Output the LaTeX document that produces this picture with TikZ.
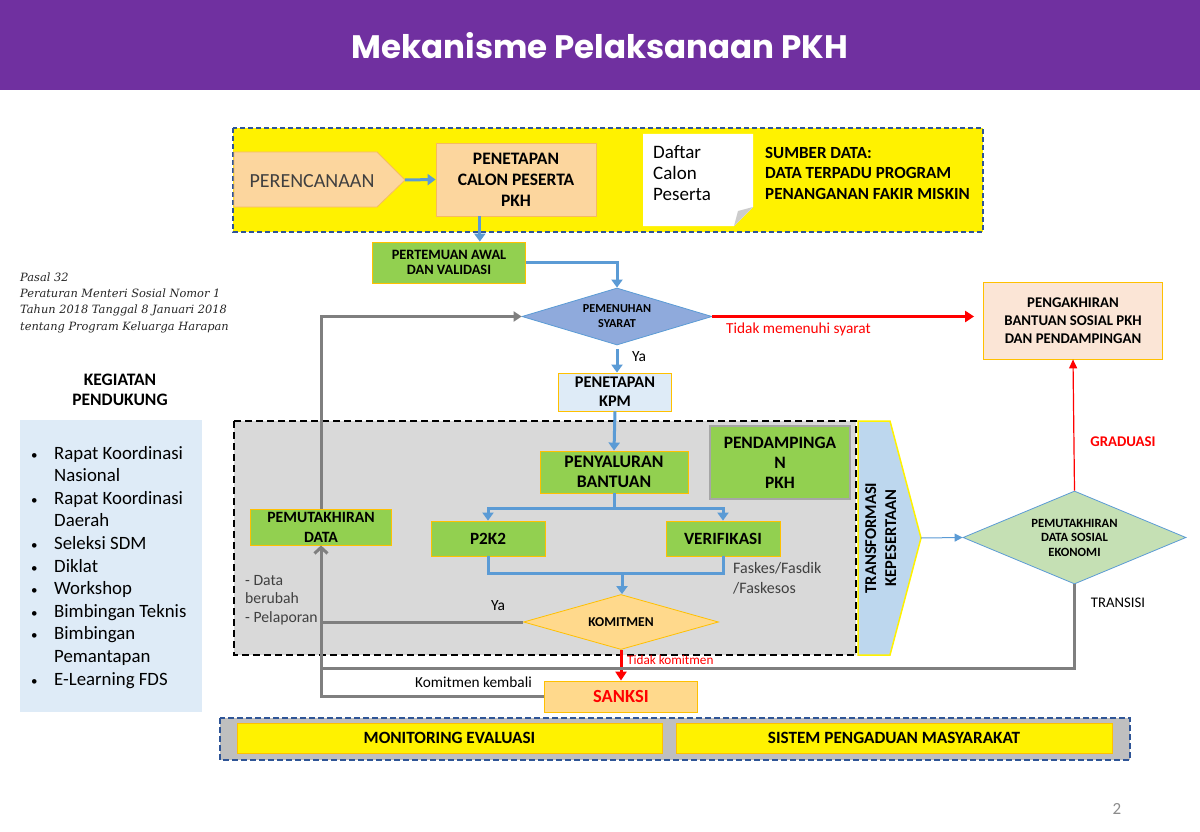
\documentclass[tikz,border=0pt]{standalone}
\usepackage{fontspec}
\setmainfont{Carlito}
\newfontfamily\titlefont{Poppins}
\newfontfamily\pasalfont{DejaVu Serif}
\usepackage{graphicx}
\usetikzlibrary{shapes.geometric, arrows.meta, calc}
\definecolor{pkhpurple}{RGB}{112, 48, 160}
\definecolor{peach}{RGB}{252, 214, 158}
\definecolor{peachline}{RGB}{246, 186, 96}
\definecolor{leaf}{RGB}{146, 208, 80}
\definecolor{gold}{RGB}{255, 192, 0}
\definecolor{flowblue}{RGB}{91, 155, 213}
\definecolor{dashblue}{RGB}{47, 85, 151}
\definecolor{skyfill}{RGB}{222, 235, 247}
\definecolor{rose}{RGB}{251, 229, 214}
\definecolor{amber}{RGB}{255, 217, 140}
\definecolor{slate}{RGB}{143, 170, 220}
\definecolor{mint}{RGB}{197, 224, 180}
\definecolor{ice}{RGB}{189, 215, 238}
\definecolor{panel}{RGB}{217, 217, 217}
\definecolor{ash}{RGB}{127, 127, 127}
\definecolor{strip}{RGB}{191, 191, 191}
\definecolor{ink}{RGB}{64, 64, 64}
\newcommand{\pkhsize}[2]{\fontsize{#1}{#2}\selectfont}
\newcommand{\pkhbullet}{\hspace*{1pt}{\pkhsize{13}{13}\textbullet}}

\begin{document}
\begin{tikzpicture}[x=1pt, y=-1pt,
  box/.style={draw=gold, line width=0.8pt, align=center, inner sep=1pt},
  leafbox/.style={box, fill=leaf},
  lbl/.style={inner sep=0pt},
  flow/.style={draw=flowblue, line width=3pt, -{Triangle[length=8pt, width=11pt]}},
  flowline/.style={draw=flowblue, line width=3pt},
  back/.style={draw=ash, line width=3pt},
  stop/.style={draw=red, line width=3pt, -{Triangle[length=9pt, width=11pt]}}]
  \useasboundingbox (0,0) rectangle (1200,832);
  \fill[white] (0,0) rectangle (1200,832);

  % header
  \fill[pkhpurple] (0,0) rectangle (1200,90);
  \node[text=white, font=\titlefont\bfseries\pkhsize{32.5}{40}] (title) at (600,46) {Mekanisme Pelaksanaan PKH};

  % planning strip
  \draw[fill=yellow, draw=dashblue, line width=1.2pt, dash pattern=on 5pt off 3pt] (233,128) rectangle (983,232);
  \draw[fill=peach, draw=peachline, line width=0.8pt] (234,152) -- (377,152) -- (405,180) -- (377,207) -- (234,207) -- cycle;
  \coordinate (perenctip) at (405,180);
  \node[lbl, text=ink, font=\pkhsize{20}{22}] (perenc) at (312,181) {PERENCANAAN};
  \node[box, draw=peachline, fill=peach, font=\bfseries\pkhsize{17.5}{21}, minimum width=160pt, minimum height=73pt] (calon) at (516,179.5) {PENETAPAN\\CALON PESERTA\\PKH};
  \fill[white] (643,134) -- (753,134) -- (753,207) -- (734,226) -- (643,226) -- cycle;
  \fill[black!20] (753,207) -- (734,226) -- (738,211) -- cycle;
  \node[lbl, anchor=west, align=left, font=\pkhsize{19}{21}] (daftar) at (653,173) {Daftar\\Calon\\Peserta};
  \node[lbl, anchor=west, align=left, font=\bfseries\pkhsize{17}{20.5}] (sumber) at (765,173) {SUMBER DATA:\\DATA TERPADU PROGRAM\\PENANGANAN FAKIR MISKIN};

  \node[leafbox, font=\bfseries\pkhsize{14.3}{15.5}, minimum width=153pt, minimum height=41pt] (awal) at (449,262.5) {PERTEMUAN AWAL\\DAN VALIDASI};
  \node[diamond, shape aspect=3.3, fill=slate, draw=flowblue, line width=0.8pt, minimum width=190pt, minimum height=57pt,
    inner sep=0pt, align=center, font=\bfseries\pkhsize{12.2}{15}] (syarat) at (617,316.5) {PEMENUHAN\\SYARAT};
  \node[box, fill=skyfill, font=\bfseries\pkhsize{16.3}{19}, minimum width=113pt, minimum height=38pt] (kpm) at (615,392) {PENETAPAN\\KPM};
  \node[box, fill=rose, font=\bfseries\pkhsize{14.8}{18}, minimum width=179pt, minimum height=77pt] (akhir) at (1073,320.5) {PENGAKHIRAN\\BANTUAN SOSIAL PKH\\DAN PENDAMPINGAN};

  % pelaksanaan panel
  \draw[fill=panel, line width=2pt, dash pattern=on 7pt off 4pt] (234,421) rectangle (856,655);
  \node[leafbox, font=\bfseries\pkhsize{17.7}{20}, minimum width=148pt, minimum height=42pt] (salur) at (614,472) {PENYALURAN\\BANTUAN};
  \node[leafbox, draw=black!35, line width=2pt, font=\bfseries\pkhsize{17.4}{20}, minimum width=140pt, minimum height=73pt] (damping) at (780,462.5) {PENDAMPINGA\\N\\PKH};
  \node[leafbox, font=\bfseries\pkhsize{17.2}{19}, minimum width=114pt, minimum height=35pt] (p2k2) at (488,538.5) {P2K2};
  \node[leafbox, font=\bfseries\pkhsize{17.2}{19}, minimum width=114pt, minimum height=35pt] (verif) at (723,538.5) {VERIFIKASI};
  \node[leafbox, font=\bfseries\pkhsize{15.7}{20}, minimum width=141pt, minimum height=36pt] (mutakhir) at (321,527) {PEMUTAKHIRAN\\DATA};
  \node[diamond, shape aspect=3.6, fill=amber, draw=gold, line width=0.8pt, minimum width=195pt, minimum height=55pt,
    inner sep=0pt, font=\bfseries\pkhsize{13.5}{15}] (komit) at (621,622) {KOMITMEN};
  \node[box, fill=amber, text=red, font=\bfseries\pkhsize{18.5}{20}, minimum width=153pt, minimum height=31pt] (sanksi) at (621,696.5) {SANKSI};

  \draw[fill=ice, draw=yellow, line width=1.5pt] (858,421) -- (890,421) -- (921,538) -- (890,655) -- (858,655) -- cycle;
  \coordinate (transtip) at (921,538);
  \node[lbl, font=\bfseries\pkhsize{16.5}{20}] (trans) at (882,538)
    {\rotatebox{90}{\begin{tabular}{@{}c@{}}TRANSFORMASI\\KEPESERTAAN\end{tabular}}};
  \node[diamond, shape aspect=2.4, fill=mint, draw=flowblue, line width=0.8pt, minimum width=223pt, minimum height=93pt,
    inner sep=0pt, align=center, font=\bfseries\pkhsize{12.6}{14.5}] (sosek) at (1074.5,537.5) {PEMUTAKHIRAN\\DATA SOSIAL\\EKONOMI};

  % connectors
  \draw[flow] (perenctip) -- (calon.west);
  \coordinate (calonout) at ($(calon.south west)!.275!(calon.south east)$);
  \draw[flow] (calonout) -- (calonout |- awal.north);
  \draw[flow] (awal.east) -| (syarat.north);
  \draw[stop] (syarat.east) -- (syarat.east -| akhir.west) [shorten >=9pt];
  \draw[flow, shorten <=4pt] (syarat.south) -- (syarat.south |- kpm.north);
  \draw[flow] (kpm.south) -- (salur.north);
  \coordinate (split) at ($(salur.south)+(0,15)$);
  \draw[flowline] (salur.south) -- (split);
  \draw[flow] (split) -| (p2k2.north);
  \draw[flow] (split) -| (verif.north);
  \coordinate (merge) at (622,573);
  \draw[flowline] (p2k2.south) |- (merge) -| (verif.south);
  \draw[flow] (merge) -- (merge |- komit.north);
  \draw[stop] (komit.south) -- (sanksi.north);
  \coordinate (transisiend) at (321,668);
  \draw[back] (komit.west) -- (komit.west -| mutakhir.south);
  \draw[back, -{Straight Barb[length=6pt, width=13pt]}] (sanksi.west) -| (mutakhir.south);
  \draw[back] (sosek.south) |- (transisiend);
  \draw[back, -{Triangle[length=8pt, width=10pt]}] (mutakhir.north) |- (syarat.west);
  \draw[draw=flowblue, line width=1pt, -{Triangle[length=8pt, width=8pt]}] (transtip) -- (sosek.west);
  \draw[draw=red, line width=1.2pt, -{Triangle[length=9pt, width=8pt]}] (sosek.north) -- (akhir.south);

  % labels
  \node[lbl, anchor=west, text=red, font=\pkhsize{15.3}{17}] (tidaksyarat) at (726,329) {Tidak memenuhi syarat};
  \node[lbl, font=\pkhsize{15.5}{17}] (ya1) at (639,357) {Ya};
  \node[lbl, font=\pkhsize{15.5}{17}] (ya2) at (498,606) {Ya};
  \node[lbl, anchor=west, text=red, font=\pkhsize{13.2}{15}] (tidakkomit) at (627,660) {Tidak komitmen};
  \node[lbl, font=\pkhsize{15.3}{17}] (kembali) at (473.5,682) {Komitmen kembali};
  \node[lbl, text=red, font=\bfseries\pkhsize{14.8}{17}] (graduasi) at (1123,442) {GRADUASI};
  \node[lbl, font=\pkhsize{14.7}{17}] (transisi) at (1118,603) {TRANSISI};
  \node[lbl, anchor=west, align=left, text=ink, font=\pkhsize{15.7}{18.5}] (ubah) at (245,600) {- Data\\berubah\\- Pelaporan};
  \node[lbl, anchor=west, align=left, text=ink, font=\pkhsize{16}{20}] (faskes) at (733,578) {Faskes/Fasdik\\/Faskesos};

  % kegiatan pendukung
  \node[lbl, anchor=west, align=left, text=black!85, font=\pasalfont\itshape\pkhsize{11.4}{16.3}] (pasal) at (20,302.5)
    {Pasal 32\\Peraturan Menteri Sosial Nomor 1\\Tahun 2018 Tanggal 8 Januari 2018\\tentang Program Keluarga Harapan};
  \node[lbl, align=center, font=\bfseries\pkhsize{17.5}{20}] (kegiatan) at (120,390) {KEGIATAN\\PENDUKUNG};
  \fill[skyfill] (20,420) rectangle (202,712);
  \node[lbl, anchor=base west, font=\pkhsize{18.8}{22.6}] (pendukung) at (30,459)
    {\begin{tabular}[t]{@{}p{24pt}@{}l@{}}
      \pkhbullet & Rapat Koordinasi\\ & Nasional\\
      \pkhbullet & Rapat Koordinasi\\ & Daerah\\
      \pkhbullet & Seleksi SDM\\
      \pkhbullet & Diklat\\
      \pkhbullet & Workshop\\
      \pkhbullet & Bimbingan Teknis\\
      \pkhbullet & Bimbingan\\ & Pemantapan\\
      \pkhbullet & E-Learning FDS
    \end{tabular}};

  % monitoring strip
  \draw[fill=strip, draw=dashblue, line width=1.8pt, dash pattern=on 6pt off 3pt] (220,718) rectangle (1130,760);
  \node[box, fill=yellow, font=\bfseries\pkhsize{17.2}{18}, minimum width=425pt, minimum height=30pt] (monev) at (449.5,738) {MONITORING EVALUASI};
  \node[box, fill=yellow, font=\bfseries\pkhsize{17.2}{18}, minimum width=436pt, minimum height=30pt] (aduan) at (894,738) {SISTEM PENGADUAN MASYARAKAT};

  \node[lbl, text=black!45, font=\pkhsize{17}{20}] (page) at (1117,809) {2};
\end{tikzpicture}
\end{document}
